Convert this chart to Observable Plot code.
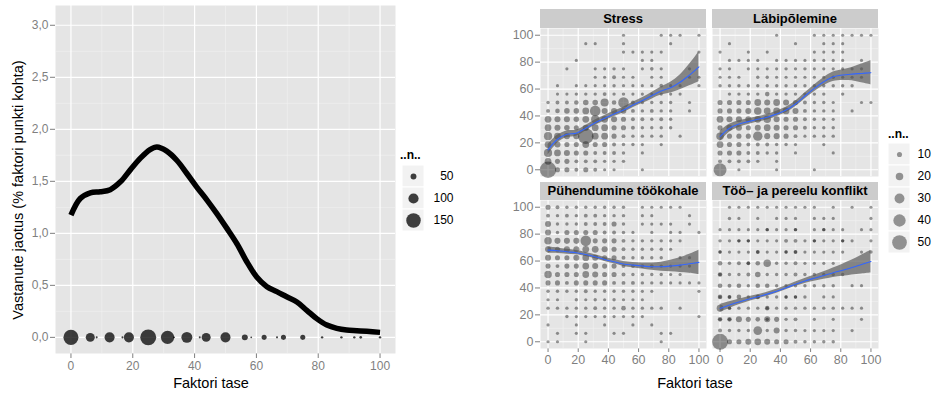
<!DOCTYPE html>
<html><head><meta charset="utf-8">
<script src="https://cdn.jsdelivr.net/npm/d3@7"></script>
<script src="https://cdn.jsdelivr.net/npm/@observablehq/plot@0.6"></script>
<style>
body{margin:0;background:#fff;font-family:"Liberation Sans",Arial,sans-serif;}
#root{position:relative;width:933px;height:394px;overflow:hidden;background:#fff;}
.strip{position:absolute;background:#cccccc;font-weight:bold;font-size:13px;text-align:center;color:#000;white-space:nowrap;}
.title{position:absolute;font-size:14.5px;color:#000;white-space:nowrap;}
.ltitle{position:absolute;font-size:12px;font-weight:bold;color:#000;}
</style></head><body><div id="root"></div><script>
// ---------- LEFT PANEL DATA ----------
const densityX = [0,3,6.25,9.5,12.7,16,19.2,22.4,25.6,27.8,31,34.3,37.5,40.7,44,47.2,50.4,53.7,56.9,60.1,63.4,66.6,69.8,73.1,76.3,79.5,82.8,86,89.2,92.5,95.7,100];
const densityY = [1.175,1.335,1.39,1.40,1.42,1.495,1.61,1.72,1.805,1.83,1.79,1.70,1.575,1.445,1.32,1.19,1.05,0.90,0.727,0.58,0.487,0.44,0.39,0.34,0.26,0.18,0.118,0.086,0.07,0.064,0.058,0.048];
const levelX = [0,6.25,8.33,12.5,16.67,18.75,25,31.25,33.33,37.5,41.67,43.75,50,56.25,58.33,62.5,66.67,68.75,75,81.25,87.5,91.67,93.75,100];
const levelN = [156,86,5,98,5,98,167,136,4,109,5,86,98,51,2,40,5,40,40,9,9,9,12,9];
const leftXTicks = [0,20,40,60,80,100];
const leftXMinor = [10,30,50,70,90];
const leftYTicks = [0,0.5,1,1.5,2,2.5,3];
const leftYMinor = [0.25,0.75,1.25,1.75,2.25,2.75];
const leftLegend = [50,100,150];

// ---------- RIGHT PANELS DATA ----------
const facetNames = ["Stress","Läbipõlemine","Pühendumine töökohale","Töö– ja pereelu konflikt"];
const colX = [0,6.25,12.5,18.75,25,31.25,37.5,43.75,50,56.25,62.5,68.75,75,81.25,87.5,93.75,100];
const rowY17 = [100,93.75,87.5,81.25,75,68.75,62.5,56.25,50,43.75,37.5,31.25,25,18.75,12.5,6.25,0];
const rowY13 = [100,91.67,83.33,75,66.67,58.33,50,41.67,33.33,25,16.67,8.33,0];
const rightTicks = [0,20,40,60,80,100];
const rightMinor = [10,30,50,70,90];
const rightLegend = [10,20,30,40,50];

const stressN = [
 [0,0,0,0,0,0,0,0,2,0,0,0,2,2,2,0,2],
 [0,0,0,0,2,2,0,0,2,0,0,0,0,2,0,0,0],
 [0,0,0,0,0,0,0,0,2,2,2,2,2,0,0,0,2],
 [0,0,0,2,0,0,0,0,0,0,2,2,0,0,0,0,0],
 [0,0,2,0,0,2,2,3,2,0,2,4,2,0,0,2,0],
 [0,0,0,0,0,2,2,5,2,2,0,2,2,0,0,2,2],
 [0,2,0,2,2,2,2,3,2,2,2,2,4,2,2,0,2],
 [0,2,2,3,3,3,5,3,3,2,2,2,2,2,2,0,0],
 [3,5,5,8,12,12,23,8,33,5,3,3,3,3,0,2,0],
 [5,8,12,12,17,33,14,14,12,5,3,5,3,3,0,2,0],
 [17,14,14,12,17,23,17,14,10,5,5,3,5,3,0,0,0],
 [17,14,12,10,14,17,17,10,10,5,3,3,3,3,0,0,0],
 [23,17,14,14,54,17,17,10,5,3,3,3,3,0,2,0,0],
 [17,14,10,10,17,10,10,5,3,3,2,0,2,0,0,0,0],
 [23,17,14,10,10,5,5,5,3,0,2,0,0,0,0,0,0],
 [17,10,10,5,5,5,3,3,3,0,0,0,0,0,0,0,0],
 [57,10,10,5,10,5,2,2,0,0,2,0,0,0,0,0,0]
];
const burnoutN = [
 [0,0,0,0,0,0,2,0,0,0,2,2,2,2,2,2,2],
 [0,2,0,0,0,0,0,0,2,0,0,2,2,2,0,0,0],
 [2,0,0,2,0,2,0,0,0,0,2,2,2,2,0,0,0],
 [0,2,2,2,2,0,2,2,2,2,2,2,2,2,0,2,0],
 [2,2,0,2,2,2,2,3,2,3,2,2,2,2,2,2,0],
 [2,2,2,0,3,3,2,2,2,2,2,2,3,2,2,2,0],
 [3,3,3,3,3,3,3,3,3,3,3,3,3,3,3,0,0],
 [0,3,3,3,3,8,3,3,3,3,3,3,0,3,0,0,0],
 [10,10,10,10,17,14,17,14,10,5,3,3,2,0,0,2,2],
 [10,10,10,14,20,17,17,17,14,5,3,3,2,0,2,0,0],
 [17,14,14,14,17,20,14,10,10,5,3,3,2,0,0,0,0],
 [10,14,14,10,14,17,14,10,10,5,3,3,3,0,0,0,0],
 [20,10,10,10,28,14,14,10,5,2,3,3,3,0,0,0,0],
 [17,10,10,5,5,5,3,3,2,0,0,2,0,0,0,0,0],
 [10,10,10,5,5,3,3,0,2,0,0,0,2,0,0,0,0],
 [5,5,5,5,3,0,2,0,0,0,0,0,0,0,0,0,0],
 [43,0,2,0,0,0,2,0,0,0,2,0,0,0,0,0,0]
];
const engageN = [
 [10,5,3,3,3,3,3,3,3,0,2,2,2,2,2,0,0],
 [5,3,5,3,5,5,3,3,3,0,2,2,0,0,0,2,0],
 [14,3,3,3,5,5,5,10,3,0,2,2,2,2,0,2,0],
 [14,3,10,10,10,10,5,5,3,2,0,2,0,2,2,0,2],
 [20,14,14,14,33,10,10,10,5,3,3,3,3,2,2,0,0],
 [14,10,14,14,17,17,14,10,5,3,3,3,3,2,0,0,0],
 [14,10,10,14,17,14,10,10,5,3,3,3,3,0,2,2,0],
 [10,5,10,10,17,14,10,10,5,5,5,5,3,3,2,2,0],
 [20,10,10,10,17,14,10,10,5,3,3,3,3,2,2,0,0],
 [10,10,5,10,10,10,10,5,5,5,3,3,3,2,2,2,2],
 [3,3,3,3,5,3,3,3,3,3,2,2,0,0,0,0,2],
 [2,2,0,3,2,3,2,3,2,2,2,0,0,0,0,0,0],
 [3,3,3,3,3,5,3,3,8,3,3,3,3,0,2,0,0],
 [0,0,3,2,2,2,2,2,2,2,2,0,0,0,0,0,2],
 [2,0,0,2,0,0,2,0,0,2,0,2,0,0,0,0,0],
 [0,2,0,2,2,0,0,2,2,0,0,0,2,2,0,0,0],
 [2,2,0,0,2,0,0,0,0,0,0,0,2,0,0,0,0]
];
const conflictN = [
 [0,2,2,2,2,2,2,2,2,2,2,0,2,0,2,0,2],
 [0,3,2,0,2,0,2,2,2,0,2,2,2,0,0,0,2],
 [2,2,2,2,2,3,2,2,3,0,2,3,2,2,0,2,2],
 [3,2,3,3,2,2,2,5,5,2,3,2,2,3,2,0,2],
 [3,2,2,2,5,2,2,3,5,2,2,2,2,2,0,2,3],
 [8,3,5,5,8,20,3,3,5,2,2,2,2,0,0,0,0],
 [8,3,3,5,12,3,3,3,5,3,3,3,3,3,0,0,0],
 [8,5,8,3,8,8,3,3,3,3,3,3,3,0,2,2,0],
 [8,5,8,3,8,3,3,3,3,3,0,2,2,0,0,0,0],
 [17,3,3,3,3,8,3,3,3,3,3,3,3,2,2,2,0],
 [8,8,14,10,8,14,10,3,5,0,2,0,2,0,0,2,0],
 [5,3,3,3,25,3,14,3,3,2,2,2,2,0,2,0,0],
 [55,10,10,14,17,14,10,10,5,3,3,3,3,0,0,0,0]
];
// overlapping (darker) small points in the conflict panel
const conflictOverlapX = [31.25,50,68.75,12.5,18.75,62.5,81.25,0,25,43.75,50,18.75,0,0,6.25,25,43.75,50,6.25,31.25,0,6.25,31.25];
const conflictOverlapY = [83.33,83.33,83.33,75,75,75,75,66.67,66.67,66.67,66.67,58.33,50,33.33,33.33,33.33,33.33,33.33,25,25,16.67,16.67,16.67];

const smoothX = [0,6.25,12.5,18.75,25,31.25,37.5,43.75,50,56.25,62.5,68.75,75,81.25,87.5,93.75,100];
const stressFit = [14.8,22.7,26.4,27.2,30.9,35,38.3,41.5,44.4,48.1,51.4,55,58.5,61,65,70.4,76.5];
const stressSe = [4,3,2.5,2.2,2,2,2,2,2,2,2.2,2.5,3,4,5.5,8,11];
const burnoutFit = [24.7,30.9,34,35.8,37.5,39,41.5,44.4,48.9,54.8,60.5,65.4,69.1,70.4,71.1,71.6,72.1];
const burnoutSe = [4,3,2.5,2.2,2,2,2,2,2,2.2,2.5,3,3.5,4,5,7,9];
const engageFit = [68.1,67.7,66.9,66.2,64.9,63.2,61.2,59.5,57.8,57,56.3,55.8,55.8,56.3,57,58,59];
const engageSe = [2.5,2,1.8,1.6,1.5,1.5,1.5,1.6,1.8,2,2.3,2.7,3.3,4.3,5.5,7,9];
const conflictFit = [24.8,27.3,29.6,31.6,33.4,35.4,37.6,40.1,42.8,45.2,47.2,49.2,51.3,53.2,55.2,57.4,59.6];
const conflictSe = [3,2.5,2,1.8,1.6,1.5,1.5,1.5,1.6,1.8,2.2,2.8,3.5,4.5,5.5,7,8.5];

// ---------- BUILD ----------
const root = document.getElementById("root");
const FONT = "'Liberation Sans', Arial, sans-serif";
function place(el, left, top) {
  el.style.position = "absolute"; el.style.left = left + "px"; el.style.top = top + "px";
  el.style.overflow = "visible";
  root.appendChild(el);
}
function div(cls, text, css) {
  const d = document.createElement("div"); d.className = cls; d.textContent = text;
  Object.assign(d.style, css); root.appendChild(d); return d;
}
const commaFmt = d => d.toFixed(1).replace(".", ",");

// Left panel
const density = densityX.map((x, i) => ({x, y: densityY[i]}));
const levels = levelX.map((x, i) => ({x, n: levelN[i]}));
const leftR = {type: "linear", domain: [0, 200], range: [0.8, 9.4]};
const left = Plot.plot({
  width: 400, height: 394, marginLeft: 55, marginRight: 5, marginTop: 5, marginBottom: 41,
  style: {color: "#7f7f7f", fontSize: "12px", fontFamily: FONT, background: "transparent", overflow: "visible"},
  x: {domain: [-5, 105], ticks: leftXTicks, tickSize: 5, tickPadding: 3, label: null},
  y: {domain: [-0.155, 3.19], ticks: leftYTicks, tickSize: 5, tickPadding: 2, tickFormat: commaFmt, label: null},
  r: leftR,
  marks: [
    Plot.frame({fill: "#e5e5e5", stroke: "none"}),
    Plot.ruleX(leftXMinor, {stroke: "#f2f2f2", strokeWidth: 0.6}),
    Plot.ruleY(leftYMinor, {stroke: "#f2f2f2", strokeWidth: 0.6}),
    Plot.ruleX(leftXTicks, {stroke: "#ffffff", strokeWidth: 1.2}),
    Plot.ruleY(leftYTicks, {stroke: "#ffffff", strokeWidth: 1.2}),
    Plot.line(density, {x: "x", y: "y", stroke: "#000", strokeWidth: 5.5, curve: "catmull-rom", strokeLinecap: "butt"}),
    Plot.dot(levels, {x: "x", y: () => 0, r: "n", fill: "#000", fillOpacity: 0.75})
  ]
});
place(left, 0, 0);
div("title", "Faktori tase", {left: "211px", top: "383px", transform: "translate(-50%,-50%)", fontFamily: FONT});
div("title", "Vastanute jaotus (% faktori punkti kohta)", {left: "18px", top: "190px", transform: "translate(-50%,-50%) rotate(-90deg)", fontFamily: FONT});

// Left legend
div("ltitle", "..n..", {left: "400px", top: "148px", fontFamily: FONT});
const leftLeg = Plot.plot({
  width: 60, height: 68, marginLeft: 0, marginRight: 38, marginTop: 0, marginBottom: 0,
  style: {color: "#000", fontSize: "12px", fontFamily: FONT, background: "transparent", overflow: "visible"},
  x: {domain: ["k"], axis: null, padding: 0}, y: {domain: leftLegend, axis: null, padding: 0},
  r: leftR,
  marks: [
    Plot.cell(leftLegend, {x: () => "k", y: d => d, fill: "#f2f2f2", stroke: "#ffffff", strokeWidth: 1}),
    Plot.dot(leftLegend, {x: () => "k", y: d => d, r: d => d, fill: "#000", fillOpacity: 0.75}),
    Plot.text(leftLegend, {x: () => "k", y: d => d, text: d => String(d), dx: 40, textAnchor: "end", fill: "#000", fontSize: 12})
  ]
});
place(leftLeg, 401.5, 164);

// Right facets
const rightR = {type: "linear", domain: [0, 100], range: [1.35, 13.35]};
function gridPoints(grid, ys) {
  const out = [];
  grid.forEach((row, i) => row.forEach((n, j) => { if (n > 0) out.push({x: colX[j], y: ys[i], n}); }));
  return out;
}
const panels = [
  {name: facetNames[0], pts: gridPoints(stressN, rowY17), fit: stressFit, se: stressSe, px: 540, py: 28, col: 0, row: 0},
  {name: facetNames[1], pts: gridPoints(burnoutN, rowY17), fit: burnoutFit, se: burnoutSe, px: 712, py: 28, col: 1, row: 0},
  {name: facetNames[2], pts: gridPoints(engageN, rowY17), fit: engageFit, se: engageSe, px: 540, py: 200, col: 0, row: 1},
  {name: facetNames[3], pts: gridPoints(conflictN, rowY13).concat(conflictOverlapX.map((x, i) => ({x, y: conflictOverlapY[i], n: 3}))), fit: conflictFit, se: conflictSe, px: 712, py: 200, col: 1, row: 1}
];
const PW = 166, PH = 148;
panels.forEach(p => {
  const mL = p.col === 0 ? 32 : 0, mB = p.row === 1 ? 24 : 0;
  const smooth = smoothX.map((x, i) => ({x, y: p.fit[i], lo: p.fit[i] - p.se[i], hi: p.fit[i] + p.se[i]}));
  const chart = Plot.plot({
    width: PW + mL + 1, height: PH + mB, marginLeft: mL, marginRight: 1, marginTop: 0, marginBottom: mB,
    style: {color: "#7f7f7f", fontSize: "12.5px", fontFamily: FONT, background: "transparent", overflow: "visible"},
    x: {domain: [-5, 105], ticks: rightTicks, tickSize: 4, tickPadding: 3, label: null, axis: p.row === 1 ? "bottom" : null},
    y: {domain: [-5, 105], ticks: rightTicks, tickSize: 5, tickPadding: 2, label: null, axis: p.col === 0 ? "left" : null},
    r: rightR,
    marks: [
      Plot.frame({fill: "#e5e5e5", stroke: "none"}),
      Plot.ruleX(rightMinor, {stroke: "#f2f2f2", strokeWidth: 0.6}),
      Plot.ruleY(rightMinor, {stroke: "#f2f2f2", strokeWidth: 0.6}),
      Plot.ruleX(rightTicks, {stroke: "#ffffff", strokeWidth: 1.2}),
      Plot.ruleY(rightTicks, {stroke: "#ffffff", strokeWidth: 1.2}),
      Plot.dot(p.pts, {x: "x", y: "y", r: "n", fill: "#000", fillOpacity: 0.4}),
      Plot.areaY(smooth, {x: "x", y1: "lo", y2: "hi", fill: "#555", fillOpacity: 0.68, curve: "catmull-rom"}),
      Plot.line(smooth, {x: "x", y: "y", stroke: "#3366FF", strokeWidth: 1.1, curve: "catmull-rom"})
    ]
  });
  place(chart, p.px - mL, p.py);
  const sTop = p.row === 0 ? 9 : 182, sH = p.row === 0 ? 19 : 18;
  div("strip", p.name, {left: p.px + "px", top: sTop + "px", width: PW + "px", height: sH + "px", lineHeight: sH + "px", fontFamily: FONT});
});
div("title", "Faktori tase", {left: "695px", top: "383px", transform: "translate(-50%,-50%)", fontFamily: FONT});

// Right legend
div("ltitle", "..n..", {left: "888px", top: "127px", fontFamily: FONT});
const rightLeg = Plot.plot({
  width: 60, height: 110, marginLeft: 0, marginRight: 38, marginTop: 0, marginBottom: 0,
  style: {color: "#000", fontSize: "12px", fontFamily: FONT, background: "transparent", overflow: "visible"},
  x: {domain: ["k"], axis: null, padding: 0}, y: {domain: rightLegend, axis: null, padding: 0},
  r: rightR,
  marks: [
    Plot.cell(rightLegend, {x: () => "k", y: d => d, fill: "#f2f2f2", stroke: "#ffffff", strokeWidth: 1}),
    Plot.dot(rightLegend, {x: () => "k", y: d => d, r: d => d, fill: "#000", fillOpacity: 0.4}),
    Plot.text(rightLegend, {x: () => "k", y: d => d, text: d => String(d), dx: 18, textAnchor: "start", fill: "#000", fontSize: 12})
  ]
});
place(rightLeg, 888, 143);
</script></body></html>
